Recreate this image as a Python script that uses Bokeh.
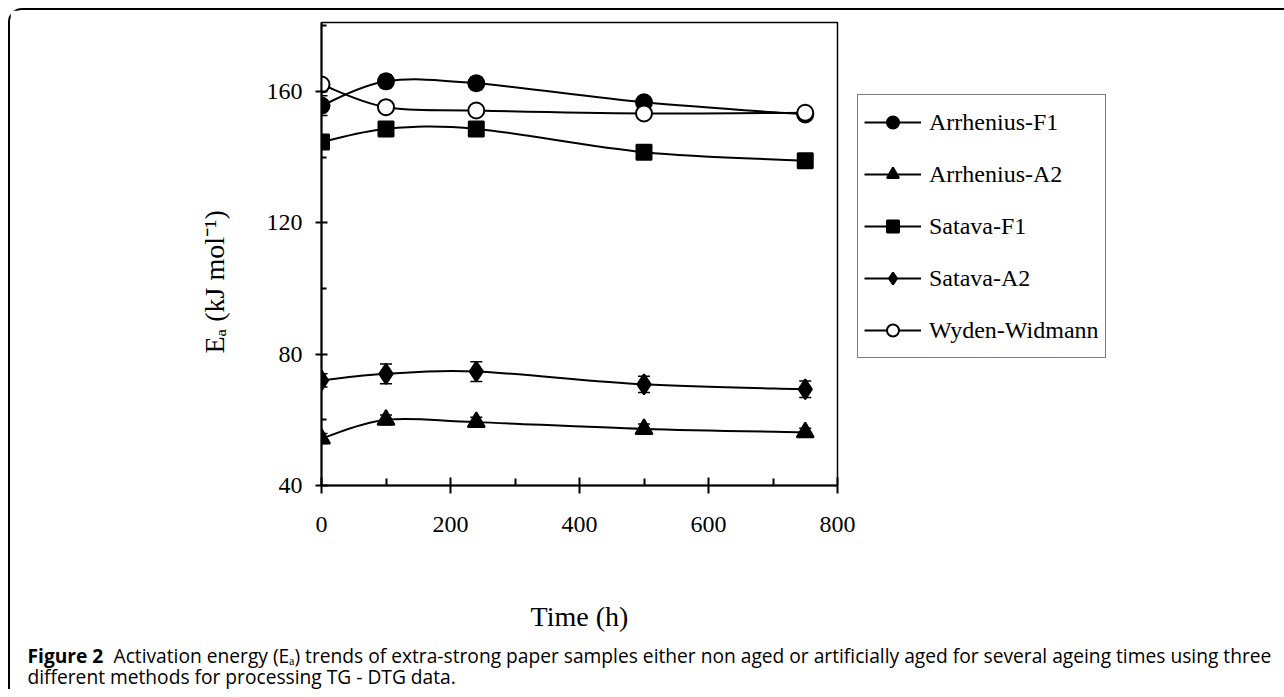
import numpy as np
from bokeh.plotting import figure
from bokeh.models import (ColumnDataSource, Legend, LegendItem, FixedTicker,
                          Range1d, Whisker, TeeHead, Title)
from bokeh.layouts import column
from bokeh.embed import file_html
from bokeh.resources import INLINE
from bokeh.core.properties import value

# ---------------- data ----------------
time_h = [0, 100, 240, 500, 750]

series_names = ["Arrhenius-F1", "Arrhenius-A2", "Satava-F1", "Satava-A2", "Wyden-Widmann"]

arrhenius_f1 = [155.7, 163.1, 162.5, 156.7, 153.0]
arrhenius_f1_err = [3.0, 2.0, 2.0, 1.5, 1.0]

arrhenius_a2 = [54.3, 60.0, 59.3, 57.2, 56.2]
arrhenius_a2_err = [1.5, 1.5, 1.5, 1.5, 1.2]

satava_f1 = [144.6, 148.6, 148.6, 141.5, 138.9]
satava_f1_err = [1.0, 1.0, 1.0, 1.0, 1.0]

satava_a2 = [72.0, 74.0, 74.7, 70.8, 69.3]
satava_a2_err = [2.0, 3.0, 3.0, 2.5, 2.5]

wyden_widmann = [162.1, 155.2, 154.2, 153.3, 153.5]
wyden_widmann_err = [1.5, 1.5, 1.5, 1.5, 1.5]

x_ticks = [0, 200, 400, 600, 800]
x_minor_ticks = [100, 300, 500, 700]
y_ticks = [40, 80, 120, 160]
y_minor_ticks = [60, 100, 140, 180]

x_label = "Time (h)"
y_label = "E\u2090 (kJ mol\u207b\u00b9)"

caption_bold = "Figure 2"
caption_line1 = ("Activation energy (E\u2090) trends of extra-strong paper samples either non aged "
                 "or artificially aged for several ageing times using three")
caption_line2 = "different methods for processing TG - DTG data."

# ---------------- helpers ----------------
def smooth_segments(xs, ys):
    """Excel-like smoothed line: cubic Bezier segments (Catmull-Rom control points)."""
    P = np.column_stack([np.asarray(xs, float), np.asarray(ys, float)])
    n = len(P)
    seg = {k: [] for k in ("x0", "y0", "x1", "y1", "cx0", "cy0", "cx1", "cy1")}
    for i in range(n - 1):
        pp = P[max(i - 1, 0)]
        p0 = P[i]
        p1 = P[i + 1]
        pn = P[min(i + 2, n - 1)]
        c0 = p0 + (p1 - pp) / 6.0
        c1 = p1 - (pn - p0) / 6.0
        seg["x0"].append(p0[0]); seg["y0"].append(p0[1])
        seg["x1"].append(p1[0]); seg["y1"].append(p1[1])
        seg["cx0"].append(c0[0]); seg["cy0"].append(c0[1])
        seg["cx1"].append(c1[0]); seg["cy1"].append(c1[1])
    return seg

SERIF = "Liberation Serif"

# ---------------- chart ----------------
p = figure(frame_width=516, frame_height=463,
           x_range=Range1d(0, 800), y_range=Range1d(40, 181),
           output_backend="svg", toolbar_location=None,
           min_border_left=311, min_border_right=0,
           min_border_top=12, min_border_bottom=158)
p.frame_align = False
p.xgrid.visible = False
p.ygrid.visible = False
p.background_fill_color = "white"
p.border_fill_color = "white"
p.outline_line_color = "black"
p.outline_line_width = 1.5
p.outline_line_alpha = 1.0

xa = p.xaxis[0]
ya = p.yaxis[0]
xa.ticker = FixedTicker(ticks=x_ticks, minor_ticks=x_minor_ticks)
ya.ticker = FixedTicker(ticks=y_ticks, minor_ticks=y_minor_ticks)
for ax in (xa, ya):
    ax.axis_line_color = "black"
    ax.axis_line_width = 2
    ax.major_tick_line_color = "black"
    ax.major_tick_line_width = 2
    ax.minor_tick_line_color = "black"
    ax.minor_tick_line_width = 2
    ax.major_label_text_font = SERIF
    ax.major_label_text_font_size = "24px"
    ax.major_label_text_color = "black"

xa.major_tick_in = 8
xa.major_tick_out = 8
xa.minor_tick_in = 7
xa.minor_tick_out = 0
xa.major_label_standoff = 23
xa.axis_label = x_label
xa.axis_label_text_font = SERIF
xa.axis_label_text_font_size = "28px"
xa.axis_label_text_font_style = "normal"
xa.axis_label_text_color = "black"
xa.axis_label_standoff = 66

ya.major_tick_in = 6
ya.major_tick_out = 6
ya.minor_tick_in = 5
ya.minor_tick_out = 0
ya.major_label_standoff = 13

ytitle = Title(text=y_label, align="left", text_font=SERIF, text_font_size="28px",
               text_font_style="normal", text_color="black", standoff=67, offset=132)
p.add_layout(ytitle, "left")

series = [
    (series_names[0], arrhenius_f1, arrhenius_f1_err, "circle", 16, "black"),
    (series_names[1], arrhenius_a2, arrhenius_a2_err, "triangle", 17, "black"),
    (series_names[2], satava_f1, satava_f1_err, "square", 15, "black"),
    (series_names[3], satava_a2, satava_a2_err, "diamond", 20, "black"),
    (series_names[4], wyden_widmann, wyden_widmann_err, "circle", 16, "white"),
]

items = []
for name, ys, err, marker, size, fill in series:
    seg = ColumnDataSource(smooth_segments(time_h, ys))
    line_r = p.bezier(x0="x0", y0="y0", x1="x1", y1="y1", cx0="cx0", cy0="cy0",
                      cx1="cx1", cy1="cy1", source=seg, line_color="black", line_width=2)
    wsrc = ColumnDataSource(dict(base=time_h,
                                 lower=[v - e for v, e in zip(ys, err)],
                                 upper=[v + e for v, e in zip(ys, err)]))
    w = Whisker(source=wsrc, base="base", lower="lower", upper="upper",
                line_color="black", line_width=1.5,
                upper_head=TeeHead(size=12, line_color="black", line_width=1.5),
                lower_head=TeeHead(size=12, line_color="black", line_width=1.5))
    p.add_layout(w)
    src = ColumnDataSource(dict(x=time_h, y=ys))
    sc_r = p.scatter(x="x", y="y", source=src, marker=marker, size=size,
                     fill_color=fill, line_color="black", line_width=2)
    items.append(LegendItem(label=name, renderers=[line_r, sc_r]))

legend = Legend(items=items, location=(20, 127),
                border_line_color="black", border_line_width=1.5,
                background_fill_color="white", background_fill_alpha=1.0,
                label_text_font=SERIF, label_text_font_size="24px", label_text_color="black",
                glyph_width=57, glyph_height=30, label_height=42, spacing=10,
                padding=6, label_standoff=8, margin=0)
p.add_layout(legend, "right")

# ---------------- caption ----------------
CW, CH = 1266, 46
cap = figure(width=CW, height=CH, x_range=Range1d(0, CW), y_range=Range1d(0, CH),
             output_backend="svg", toolbar_location=None, min_border=0,
             x_axis_location=None, y_axis_location=None)
cap.frame_align = False
cap.xgrid.visible = False
cap.ygrid.visible = False
cap.outline_line_color = None
cap.background_fill_color = "white"
cap.border_fill_color = "white"

FS = "19.2px"
cap.text(x=[17], y=[34], text=[caption_bold], text_font=value("Open Sans"),
         text_font_style="bold", text_font_size=FS, text_baseline="alphabetic",
         text_color="black")
cap.text(x=[103], y=[34], text=[caption_line1], text_font=value("Open Sans"),
         text_font_size=FS, text_baseline="alphabetic", text_color="black")
cap.text(x=[17], y=[13], text=[caption_line2], text_font=value("Open Sans"),
         text_font_size=FS, text_baseline="alphabetic", text_color="black")

layout = column(p, cap, styles={"margin-left": "8px", "margin-top": "8px",
                                "border-left": "2px solid black",
                                "border-top": "2px solid black",
                                "border-top-left-radius": "14px"})

open("out.html", "w").write(file_html(layout, INLINE))
